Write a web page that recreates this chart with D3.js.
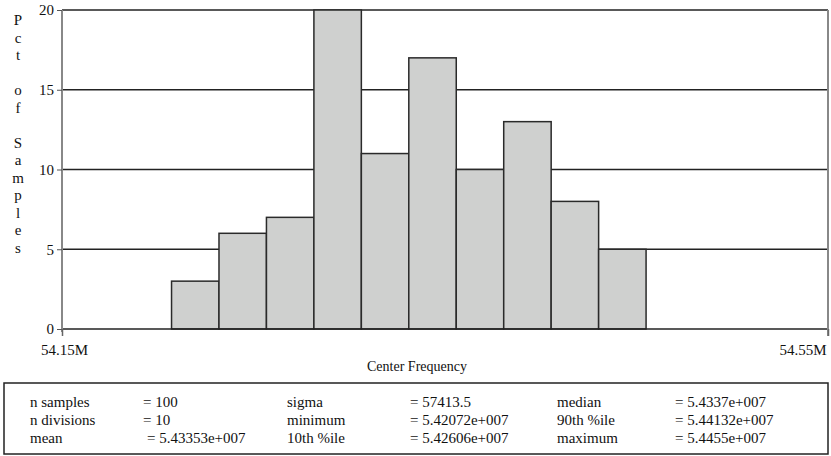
<!DOCTYPE html>
<html>
<head>
<meta charset="utf-8">
<script src="https://cdn.jsdelivr.net/npm/d3@7"></script>
<style>
  body { margin: 0; background: #fff; }
  text { font-family: "Liberation Serif", "Times New Roman", Times, Tinos, "DejaVu Serif", serif; fill: #111; }
</style>
</head>
<body>
<div id="chart"></div>
<script>
// histogram data (percent of samples per division)
const pctSamples = [3, 6, 7, 20, 11, 17, 10, 13, 8, 5];
const minimum = 5.42072e7;
const maximum = 5.4455e7;
const nDivisions = 10;
const yTicks = [0, 5, 10, 15, 20];
const xTickValues = [54.15e6, 54.55e6];
const xTickLabels = ["54.15M", "54.55M"];
const yLabel = "Pct of Samples";
const xLabel = "Center Frequency";

// stats box, three columns
const statLabels1 = ["n samples", "n divisions", "mean"];
const statValues1 = ["= 100", "= 10", "= 5.43353e+007"];
const statLabels2 = ["sigma", "minimum", "10th %ile"];
const statValues2 = ["= 57413.5", "= 5.42072e+007", "= 5.42606e+007"];
const statLabels3 = ["median", "90th %ile", "maximum"];
const statValues3 = ["= 5.4337e+007", "= 5.44132e+007", "= 5.4455e+007"];

const serif = '"Liberation Serif", "Times New Roman", Times, Tinos, "DejaVu Serif", serif';

let width = 831, height = 456;

let svg = d3.select("#chart")
  .append("svg")
  .attr("width", width)
  .attr("height", height)
  .style("font-family", serif);

let x = d3.scaleLinear().domain([54.15e6, 54.55e6]).range([62, 828]);
let y = d3.scaleLinear().domain([0, 20]).range([329, 10]);

// bins from min / max / n divisions
let step = (maximum - minimum) / nDivisions;
let bins = pctSamples.map((v, i) => ({
  x0: minimum + i * step,
  x1: minimum + (i + 1) * step,
  v: v
}));

// grid lines
svg.append("g")
  .selectAll("line")
  .data(yTicks.filter(d => d > 0))
  .enter()
  .append("line")
  .attr("x1", x.range()[0])
  .attr("x2", x.range()[1])
  .attr("y1", d => y(d))
  .attr("y2", d => y(d))
  .attr("stroke", "#222")
  .attr("stroke-width", 1.5);

// bars
svg.append("g")
  .selectAll("rect")
  .data(bins)
  .enter()
  .append("rect")
  .attr("x", d => x(d.x0))
  .attr("width", d => x(d.x1) - x(d.x0))
  .attr("y", d => y(d.v))
  .attr("height", d => y(0) - y(d.v))
  .attr("fill", "#cfd0cf")
  .attr("stroke", "#2a2a2a")
  .attr("stroke-width", 1.5);

// baseline
svg.append("line")
  .attr("x1", x.range()[0]).attr("x2", x.range()[1])
  .attr("y1", y(0)).attr("y2", y(0))
  .attr("stroke", "#222").attr("stroke-width", 1.5);

// right border
svg.append("line")
  .attr("x1", x.range()[1]).attr("x2", x.range()[1])
  .attr("y1", y(20)).attr("y2", y(0) + 7)
  .attr("stroke", "#888").attr("stroke-width", 2);

// y axis
let yAxis = d3.axisLeft(y).tickValues(yTicks).tickSize(5).tickPadding(3);
let gy = svg.append("g")
  .attr("transform", "translate(" + x.range()[0] + ",0)")
  .call(yAxis)
  .attr("font-family", serif)
  .attr("font-size", 15);
gy.select(".domain").attr("stroke", "#888").attr("stroke-width", 2)
  .attr("d", "M0," + (y(20)) + "V" + (y(0) + 3));
gy.selectAll(".tick line").attr("stroke", "#555");
gy.selectAll(".tick text").attr("fill", "#111");

// x axis ticks
let xAxis = d3.axisBottom(x).tickValues(xTickValues).tickSize(7)
  .tickFormat((d, i) => xTickLabels[i]).tickPadding(8);
let gx = svg.append("g")
  .attr("transform", "translate(0," + y(0) + ")")
  .call(xAxis)
  .attr("font-family", serif)
  .attr("font-size", 15);
gx.select(".domain").remove();
gx.selectAll(".tick line").attr("stroke", "#666").attr("stroke-width", 1.5);
gx.selectAll(".tick text")
  .attr("fill", "#111")
  .attr("text-anchor", (d, i) => i === 0 ? "middle" : "end")
  .attr("dx", (d, i) => i === 0 ? 2 : -2);

// x label
svg.append("text")
  .attr("x", 417)
  .attr("y", 371)
  .attr("text-anchor", "middle")
  .style("font-size", "14px")
  .text(xLabel);

// y label, one letter per line
let letters = yLabel.split("");
svg.append("g")
  .selectAll("text")
  .data(letters)
  .enter()
  .append("text")
  .attr("x", 18)
  .attr("y", (d, i) => 25 + i * 17.5)
  .attr("text-anchor", "middle")
  .style("font-size", "15px")
  .text(d => d);

// stats box
svg.append("rect")
  .attr("x", 4).attr("y", 383)
  .attr("width", 824).attr("height", 71)
  .attr("fill", "none")
  .attr("stroke", "#222")
  .attr("stroke-width", 1.5);

let cols = [
  { xs: 30, data: statLabels1 },
  { xs: 143, data: statValues1 },
  { xs: 287, data: statLabels2 },
  { xs: 410, data: statValues2 },
  { xs: 557, data: statLabels3 },
  { xs: 675, data: statValues3 }
];
cols.forEach(c => {
  svg.append("g")
    .selectAll("text")
    .data(c.data)
    .enter()
    .append("text")
    .attr("x", (d, i) => (c.xs === 143 && i === 2) ? 147 : c.xs)
    .attr("y", (d, i) => 407 + i * 18)
    .style("font-size", "15px")
    .text(d => d);
});
</script>
</body>
</html>
